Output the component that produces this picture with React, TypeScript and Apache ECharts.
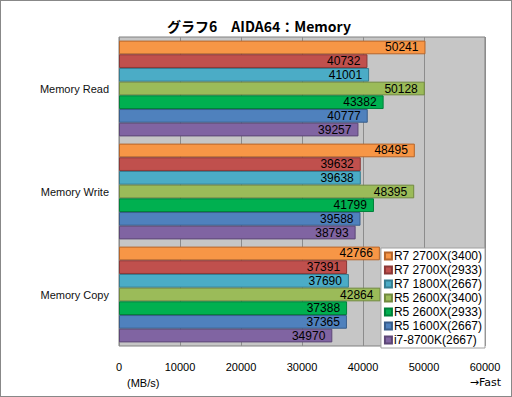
import React, { useEffect, useRef } from "react";
import * as echarts from "echarts";

const categories = ["Memory Read", "Memory Write", "Memory Copy"];
const seriesNames = [
  "R7 2700X(3400)",
  "R7 2700X(2933)",
  "R7 1800X(2667)",
  "R5 2600X(3400)",
  "R5 2600X(2933)",
  "R5 1600X(2667)",
  "i7-8700K(2667)",
];
const r7_2700x_3400 = [50241, 48495, 42766];
const r7_2700x_2933 = [40732, 39632, 37391];
const r7_1800x_2667 = [41001, 39638, 37690];
const r5_2600x_3400 = [50128, 48395, 42864];
const r5_2600x_2933 = [43382, 41799, 37388];
const r5_1600x_2667 = [40777, 39588, 37365];
const i7_8700k_2667 = [39257, 38793, 34970];
const seriesValues = [
  r7_2700x_3400,
  r7_2700x_2933,
  r7_1800x_2667,
  r5_2600x_3400,
  r5_2600x_2933,
  r5_1600x_2667,
  i7_8700k_2667,
];
const xTicks = { min: 0, max: 60000, interval: 10000 };

const fills = ["#F79646", "#C0504D", "#4BACC6", "#9BBB59", "#00B050", "#4F81BD", "#8064A2"];
const borders = ["#B5652A", "#8C3836", "#357D91", "#71893F", "#00803A", "#385D8A", "#5C4776"];

const FONT = "'Liberation Sans', Arial, sans-serif";

export default function App() {
  const ref = useRef<HTMLDivElement>(null);
  useEffect(() => {
    if (!ref.current) return;
    const chart = echarts.init(ref.current, undefined, { renderer: "svg" });
    chart.setOption({
      animation: false,
      title: {
        text: "グラフ6　AIDA64：Memory",
        left: 254,
        top: 14,
        textAlign: "center",
        textStyle: {
          fontFamily: "'Noto Sans CJK JP', sans-serif",
          fontSize: 14,
          fontWeight: "bold",
          color: "#000",
        },
      },
      grid: {
        left: 119,
        right: 27,
        top: 37,
        bottom: 51,
        show: true,
        backgroundColor: "#C6C6C6",
        borderColor: "#808080",
        borderWidth: 1,
      },
      legend: {
        orient: "vertical",
        right: 27,
        top: 248,
        data: seriesNames,
        backgroundColor: "#FFFFFF",
        borderColor: "#A0A0A0",
        borderWidth: 1,
        padding: [2, 3, 2, 3],
        itemGap: 2,
        itemWidth: 7,
        itemHeight: 7,
        icon: "rect",
        textStyle: { fontFamily: FONT, fontSize: 12, color: "#000", padding: [0, 0, 0, -3] },
      },
      xAxis: {
        type: "value",
        min: xTicks.min,
        max: xTicks.max,
        interval: xTicks.interval,
        axisLine: { show: false },
        axisTick: { show: false },
        axisLabel: {
          fontFamily: FONT,
          fontSize: 11,
          color: "#000",
          margin: 15,
          formatter: (v: number) => String(v),
        },
        splitLine: { show: true, lineStyle: { color: "#8C8C8C", width: 1 } },
      },
      yAxis: {
        type: "category",
        data: categories,
        inverse: true,
        axisLine: { show: false },
        axisTick: { show: false },
        axisLabel: { fontFamily: FONT, fontSize: 11, color: "#111", margin: 10 },
      },
      graphic: [
        {
          type: "text",
          left: 127,
          top: 377,
          style: { text: "(MB/s)", fontFamily: FONT, fontSize: 11, fill: "#000" },
        },
        {
          type: "text",
          right: 11,
          top: 377,
          style: { text: "→Fast", fontFamily: "'DejaVu Sans', sans-serif", fontSize: 11, fill: "#000" },
        },
      ],
      series: seriesNames.map((name, i) => ({
        name,
        type: "bar",
        data: seriesValues[i],
        barGap: "0%",
        barCategoryGap: "7%",
        itemStyle: { color: fills[i], borderColor: borders[i], borderWidth: 1 },
        label: {
          show: true,
          position: "insideRight",
          distance: 7,
          fontFamily: FONT,
          fontSize: 12,
          color: "#000",
        },
      })),
    });
    return () => chart.dispose();
  }, []);
  return (
    <div style={{ position: "fixed", left: 0, top: 0, width: 512, height: 397, background: "#fff" }}>
      <div ref={ref} style={{ position: "absolute", left: 0, top: 0, width: 512, height: 397 }} />
      <div
        style={{
          position: "absolute",
          left: 0,
          top: 0,
          width: 512,
          height: 397,
          boxSizing: "border-box",
          border: "1px solid #888",
          pointerEvents: "none",
        }}
      />
    </div>
  );
}
